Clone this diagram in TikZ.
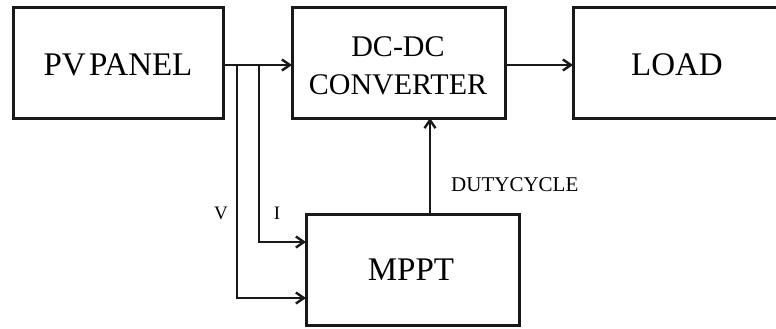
\documentclass[tikz,border=0pt]{standalone}
\usepackage{fontspec}
\setmainfont{Liberation Serif}
\usetikzlibrary{arrows.meta}
\begin{document}
\begin{tikzpicture}[x=1pt,y=-1pt,
  blk/.style={draw=black!90, line width=3pt, fill=white},
  big/.style={font=\fontsize{33}{38}\selectfont, align=center, inner sep=0pt},
  lbl/.style={font=\fontsize{19}{22}\selectfont, inner sep=0pt},
  conn/.style={draw=black!90, line width=2.8pt, -{Straight Barb[length=8pt,width=11pt,line width=2.4pt]}}]
\useasboundingbox (0,0) rectangle (776,329);
\path[blk] (13,8) rectangle (223,118);
\path[blk] (292,8) rectangle (505,118);
\path[blk] (573,8) rectangle (790,118);
\path[blk] (306,214) rectangle (519,325);
\node[big] (pv) at (118,65) {PV\hspace{0.1em}PANEL};
\node[big, font=\fontsize{30}{38}\selectfont] (dc) at (398,66) {DC-DC\\CONVERTER};
\node[big] (load) at (677,65) {LOAD};
\node[big] (mppt) at (411,270) {MPPT};
\coordinate (pvout) at (223,65);
\coordinate (dcin) at (292,65);
\coordinate (dcout) at (505,65);
\coordinate (loadin) at (573,65);
\coordinate (jv) at (237,65);
\coordinate (ji) at (259,65);
\coordinate (mi) at (306,242);
\coordinate (mv) at (306,298);
\coordinate (mtop) at (430,214);
\coordinate (dcbot) at (430,118);
\draw[conn] (pvout) -- (dcin);
\draw[conn] (dcout) -- (loadin);
\draw[conn] (ji) |- (mi);
\draw[conn] (jv) |- (mv);
\draw[conn] (mtop) -- (dcbot);
\node[lbl] (vl) at (221,213) {V};
\node[lbl] (il) at (277,213) {I};
\node[lbl, font=\fontsize{21}{24}\selectfont, anchor=west] (duty) at (451,185) {DUTYCYCLE};
\end{tikzpicture}
\end{document}
